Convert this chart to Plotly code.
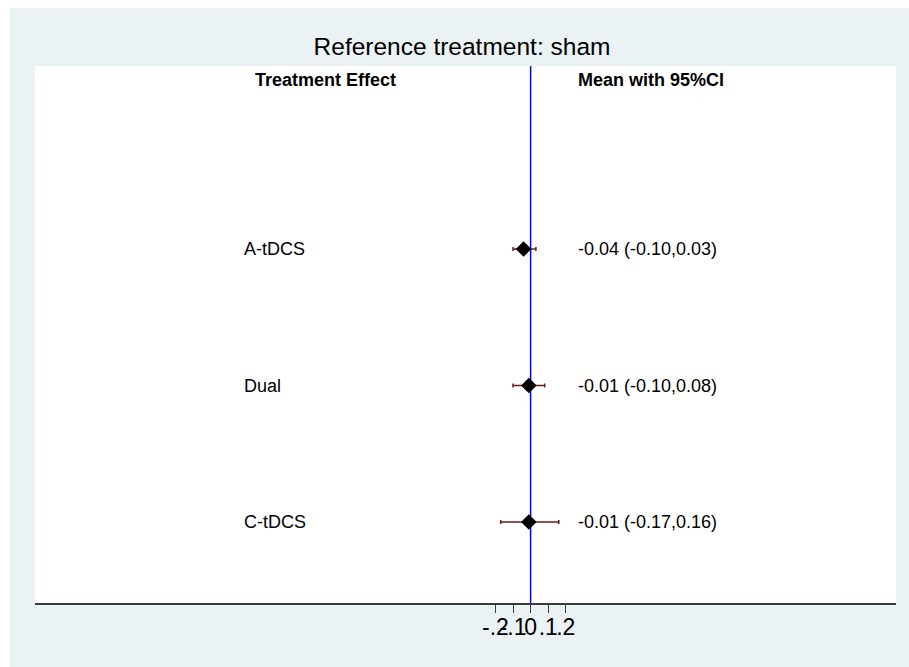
import plotly.graph_objects as go

# Data
treatments = ["A-tDCS", "Dual", "C-tDCS"]
means = [-0.04, -0.01, -0.01]
lower = [-0.10, -0.10, -0.17]
upper = [0.03, 0.08, 0.16]
row_pos = [3, 2, 1]
tick_vals = [-0.2, -0.1, 0, 0.1, 0.2]
tick_text = ["-.2", "-.1", "0", ".1", ".2"]
title_text = "Reference treatment: sham"
header_left = "Treatment Effect"
header_right = "Mean with 95%CI"

W, H = 909, 667
L, R, T, B = 35, 13, 66, 64
pw, ph = W - L - R, H - T - B

FONT = "Liberation Sans, Arial, sans-serif"

fig = go.Figure()
fig.add_trace(go.Scatter(
    x=means, y=row_pos, mode="markers",
    marker=dict(symbol="diamond", size=12, color="black"),
    error_x=dict(type="data", symmetric=False,
                 array=[u - m for u, m in zip(upper, means)],
                 arrayminus=[m - l for m, l in zip(means, lower)],
                 color="#6e1a1a", thickness=1.5, width=2),
    showlegend=False, hoverinfo="skip",
))

annotations = []
x_label = -1.64
x_val = 0.26
header_y = 4.242
annotations.append(dict(x=-1.163, y=header_y, xref="x", yref="y", text="<b>" + header_left + "</b>",
                        showarrow=False, xanchor="center", yanchor="middle",
                        font=dict(family=FONT, size=18, color="black")))
annotations.append(dict(x=x_val, y=header_y, xref="x", yref="y", text="<b>" + header_right + "</b>",
                        showarrow=False, xanchor="left", yanchor="middle",
                        font=dict(family=FONT, size=18, color="black")))
for t, m, lo, hi, yp in zip(treatments, means, lower, upper, row_pos):
    annotations.append(dict(x=x_label, y=yp, xref="x", yref="y", text=t, showarrow=False,
                            xanchor="left", yanchor="middle",
                            font=dict(family=FONT, size=18, color="black")))
    annotations.append(dict(x=x_val, y=yp, xref="x", yref="y",
                            text="%.2f (%.2f,%.2f)" % (m, lo, hi), showarrow=False,
                            xanchor="left", yanchor="middle",
                            font=dict(family=FONT, size=18, color="black")))

shapes = [
    # vertical reference line at zero
    dict(type="line", xref="x", yref="paper", x0=0, x1=0, y0=0, y1=1,
         line=dict(color="#0000FF", width=1.5), layer="below"),
    # white strips outside the outer background
    dict(type="rect", xref="paper", yref="paper",
         x0=(0 - L) / pw, x1=(10 - L) / pw, y0=-1, y1=2,
         fillcolor="white", line=dict(width=0), layer="above"),
    dict(type="rect", xref="paper", yref="paper",
         x0=-1, x1=2, y0=(H - B - 8) / ph, y1=(H - B) / ph + 1,
         fillcolor="white", line=dict(width=0), layer="above"),
]

fig.update_layout(
    width=W, height=H,
    margin=dict(l=L, r=R, t=T, b=B, pad=0),
    paper_bgcolor="#EAF2F3",
    plot_bgcolor="white",
    title=dict(text=title_text, x=462 / W, xref="container", xanchor="center",
               y=1 - 46 / H, yref="container", yanchor="middle",
               font=dict(family=FONT, size=24.5, color="black")),
    xaxis=dict(range=[-2.816, 2.076], showgrid=False, zeroline=False,
               showline=True, linecolor="#3a3a3a", linewidth=2,
               ticks="outside", ticklen=8, tickwidth=1, tickcolor="#3a3a3a",
               tickvals=tick_vals, ticktext=tick_text, tickangle=0,
               ticklabelstandoff=-6,
               tickfont=dict(family=FONT, size=23, color="black"),
               fixedrange=True),
    yaxis=dict(range=[0.407, 4.341], visible=False, showgrid=False, zeroline=False,
               fixedrange=True),
    annotations=annotations,
    shapes=shapes,
)

fig.write_html("out.html")
